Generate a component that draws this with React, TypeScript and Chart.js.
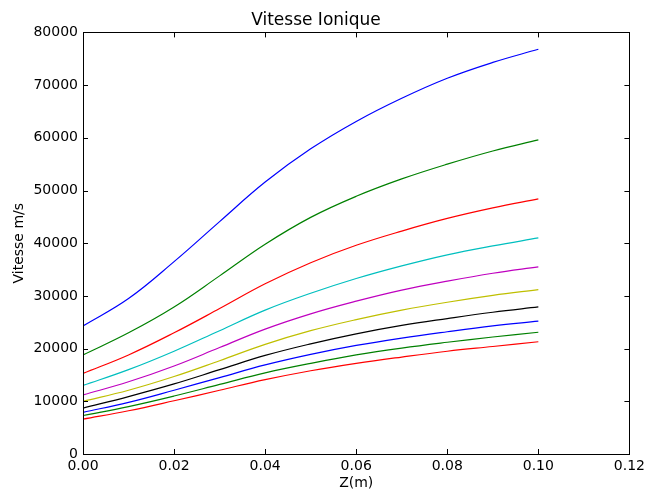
import React, { useEffect, useRef } from "react";
import { Chart, registerables } from "chart.js";

Chart.register(...registerables);

const zValues = [0, 0.01, 0.02, 0.03, 0.04, 0.05, 0.06, 0.07, 0.08, 0.09, 0.1];

const series1 = [24300, 29500, 36500, 44100, 51600, 57900, 63100, 67500, 71300, 74300, 76800];
const series2 = [18800, 23000, 27900, 33800, 39800, 44900, 48900, 52200, 55000, 57500, 59600];
const series3 = [15300, 18800, 23000, 27600, 32300, 36300, 39600, 42300, 44700, 46700, 48400];
const series4 = [13000, 16000, 19500, 23400, 27300, 30500, 33300, 35700, 37800, 39500, 41000];
const series5 = [11200, 13700, 16700, 20200, 23700, 26600, 29000, 31100, 32800, 34300, 35500];
const series6 = [10000, 12100, 14700, 17700, 20800, 23400, 25500, 27300, 28800, 30100, 31200];
const series7 = [8700, 10900, 13300, 16000, 18700, 20900, 22800, 24400, 25700, 26900, 27900];
const series8 = [7900, 9800, 12100, 14500, 16900, 18900, 20600, 22000, 23200, 24300, 25200];
const series9 = [7300, 9000, 11000, 13200, 15400, 17200, 18800, 20100, 21200, 22200, 23100];
const series10 = [6600, 8200, 10100, 12100, 14100, 15800, 17200, 18400, 19500, 20400, 21300];

const allSeries = [series1, series2, series3, series4, series5, series6, series7, series8, series9, series10];
const colors = ["#0000ff", "#008000", "#ff0000", "#00bfbf", "#bf00bf", "#bfbf00", "#000000", "#0000ff", "#008000", "#ff0000"];

const title = "Vitesse Ionique";
const xLabel = "Z(m)";
const yLabel = "Vitesse m/s";

const FONT = "'DejaVu Sans', sans-serif";

const frameTicks = {
  id: "frameTicks",
  afterDatasetsDraw(chart: any) {
    const { ctx, chartArea } = chart;
    const { left, right, top, bottom } = chartArea;
    const xs = chart.scales.x;
    const ys = chart.scales.y;
    ctx.save();
    ctx.strokeStyle = "#000";
    ctx.lineWidth = 1;
    const L = 5;
    ctx.beginPath();
    xs.ticks.forEach((t: any) => {
      const px = Math.round(xs.getPixelForValue(t.value)) + 0.5;
      ctx.moveTo(px, bottom);
      ctx.lineTo(px, bottom - L);
      ctx.moveTo(px, top);
      ctx.lineTo(px, top + L);
    });
    ys.ticks.forEach((t: any) => {
      const py = Math.round(ys.getPixelForValue(t.value)) + 0.5;
      ctx.moveTo(left, py);
      ctx.lineTo(left + L, py);
      ctx.moveTo(right, py);
      ctx.lineTo(right - L, py);
    });
    ctx.stroke();
    ctx.strokeRect(Math.round(left) + 0.5, Math.round(top) + 0.5, Math.round(right - left), Math.round(bottom - top));
    ctx.restore();
  },
};

export default function App() {
  const ref = useRef<HTMLCanvasElement | null>(null);
  useEffect(() => {
    if (!ref.current) return;
    const chart = new Chart(ref.current, {
      type: "line",
      data: {
        datasets: allSeries.map((s, i) => ({
          data: s.map((v, j) => ({ x: zValues[j], y: v })),
          borderColor: colors[i],
          backgroundColor: colors[i],
          borderWidth: 1.2,
          pointRadius: 0,
          tension: 0.4,
          fill: false,
        })),
      },
      options: {
        animation: false,
        responsive: false,
        devicePixelRatio: 1,
        layout: { padding: { left: 0, right: 17, top: 0, bottom: 0 } },
        plugins: {
          legend: { display: false },
          tooltip: { enabled: false },
          title: {
            display: true,
            text: title,
            color: "#000",
            font: { family: FONT, size: 17, weight: "normal" },
            padding: { top: 10, bottom: 2 },
          },
        },
        scales: {
          x: {
            type: "linear",
            min: 0,
            max: 0.12,
            grid: { display: false, drawTicks: false },
            border: { display: false },
            ticks: {
              stepSize: 0.02,
              color: "#000",
              padding: 4,
              maxRotation: 0,
              font: { family: FONT, size: 14 },
              callback: (v: any) => Number(v).toFixed(2),
            },
            title: {
              display: true,
              text: xLabel,
              color: "#000",
              font: { family: FONT, size: 14 },
              padding: { top: 0, bottom: 0 },
            },
            afterFit: (s: any) => {
              s.height = 38;
            },
          },
          y: {
            type: "linear",
            min: 0,
            max: 80000,
            grid: { display: false, drawTicks: false },
            border: { display: false },
            ticks: {
              stepSize: 10000,
              color: "#000",
              padding: 5,
              font: { family: FONT, size: 14 },
              callback: (v: any) => String(v),
            },
            title: {
              display: true,
              text: yLabel,
              color: "#000",
              font: { family: FONT, size: 14 },
              padding: { top: 11, bottom: 0 },
            },
            afterFit: (s: any) => {
              s.width = 83;
            },
          },
        },
      },
      plugins: [frameTicks],
    });
    return () => chart.destroy();
  }, []);
  return (
    <div style={{ position: "fixed", left: 0, top: 0, width: 649, height: 492, background: "#fff" }}>
      <canvas ref={ref} width={649} height={492} style={{ width: 649, height: 492 }} />
    </div>
  );
}
